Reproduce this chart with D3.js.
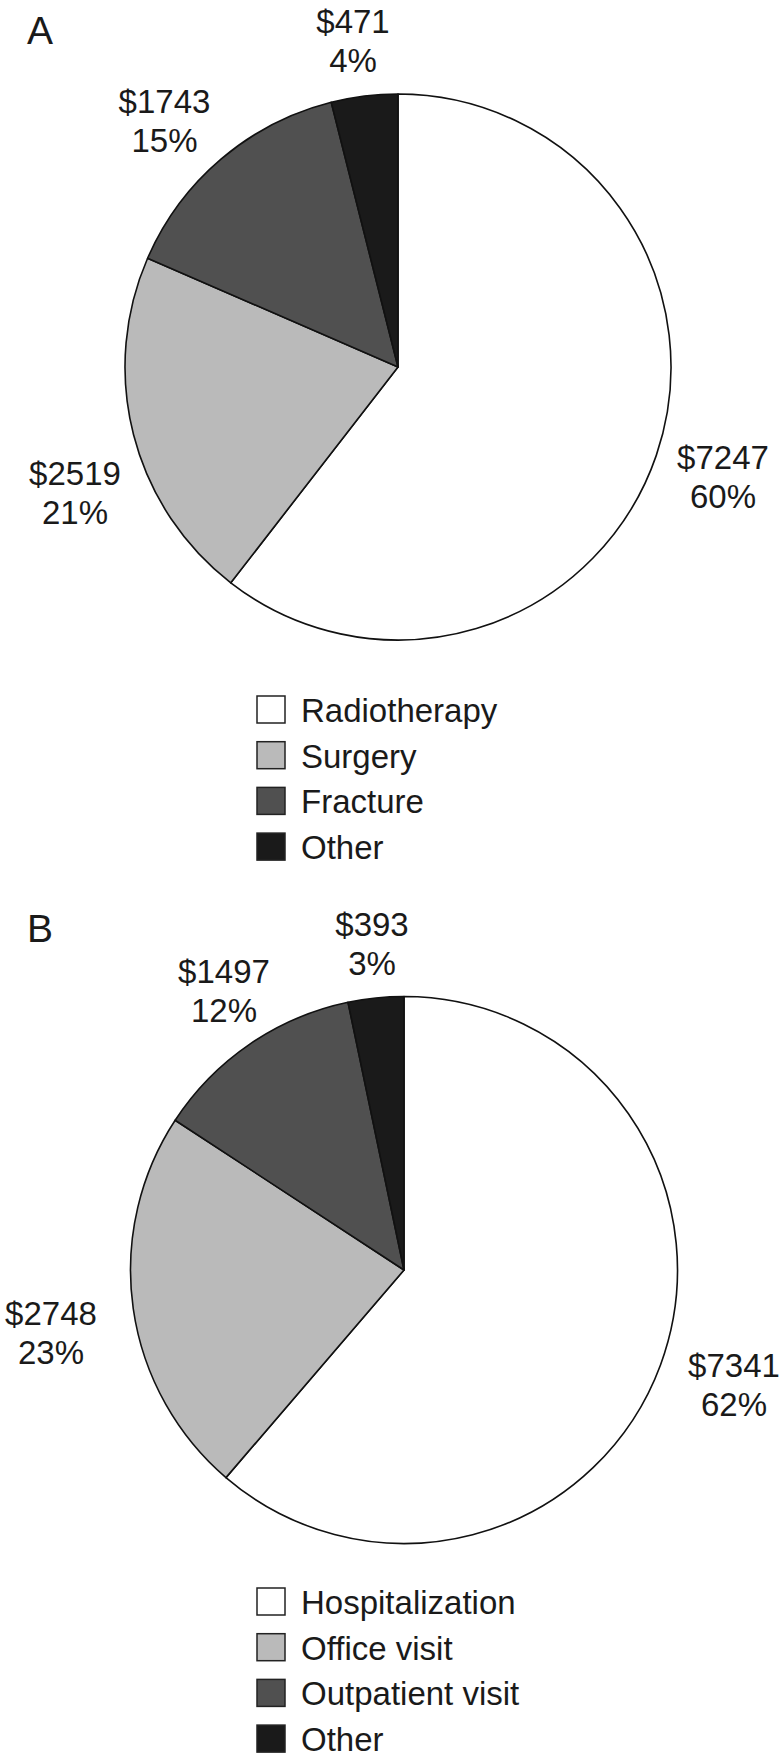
<!DOCTYPE html>
<html><head><meta charset="utf-8">
<script src="https://cdn.jsdelivr.net/npm/d3@7"></script>
<style>
html,body{margin:0;padding:0;background:#fff;}
svg text{font-family:"Liberation Sans",Arial,Helvetica,sans-serif;fill:#1a1a1a;}
</style></head>
<body>
<svg id="chart" width="782" height="1760"></svg>
<script>
// ---- data ----
const categoriesA = ["Radiotherapy", "Surgery", "Fracture", "Other"];
const valuesA = [7247, 2519, 1743, 471];
const percentA = ["60%", "21%", "15%", "4%"];

const categoriesB = ["Hospitalization", "Office visit", "Outpatient visit", "Other"];
const valuesB = [7341, 2748, 1497, 393];
const percentB = ["62%", "23%", "12%", "3%"];

const fills = ["#ffffff", "#bababa", "#505050", "#1a1a1a"];

// ---- layout (positions, not data) ----
const panels = [
  {letter: "A", cats: categoriesA, vals: valuesA, pcts: percentA,
   cx: 398, cy: 367, r: 273, letterY: 44,
   labelPos: [[723, 469], [75, 485], [164.5, 113], [353, 32.5]],
   legendTop: 695},
  {letter: "B", cats: categoriesB, vals: valuesB, pcts: percentB,
   cx: 404, cy: 1270, r: 273.5, letterY: 942,
   labelPos: [[734, 1377], [51, 1325], [224, 983], [372, 936]],
   legendTop: 1587}
];

const svg = d3.select("#chart");
const pie = d3.pie().sort(null).value(d => d);
const color = d3.scaleOrdinal().domain([0,1,2,3]).range(fills);

panels.forEach(p => {
  svg.append("text").attr("x", 27).attr("y", p.letterY)
    .attr("font-size", 39).text(p.letter);

  const arc = d3.arc().innerRadius(0).outerRadius(p.r);
  const g = svg.append("g").attr("transform", `translate(${p.cx},${p.cy})`);
  g.selectAll("path").data(pie(p.vals)).join("path")
    .attr("d", arc)
    .attr("fill", (d, i) => color(i))
    .attr("stroke", "#111")
    .attr("stroke-width", 1.6)
    .attr("stroke-linejoin", "round");

  p.vals.forEach((v, i) => {
    const [x, y] = p.labelPos[i];
    const t = svg.append("text").attr("text-anchor", "middle").attr("font-size", 33);
    t.append("tspan").attr("x", x).attr("y", y).text("$" + v);
    t.append("tspan").attr("x", x).attr("y", y + 39).text(p.pcts[i]);
  });

  const lg = svg.append("g");
  p.cats.forEach((c, i) => {
    const y = p.legendTop + i * 45.7;
    lg.append("rect").attr("x", 257).attr("y", y + 1)
      .attr("width", 28).attr("height", 27)
      .attr("fill", color(i)).attr("stroke", "#222").attr("stroke-width", 1.5);
    lg.append("text").attr("x", 301).attr("y", y + 27)
      .attr("font-size", 33).text(c);
  });
});
</script>
</body></html>
